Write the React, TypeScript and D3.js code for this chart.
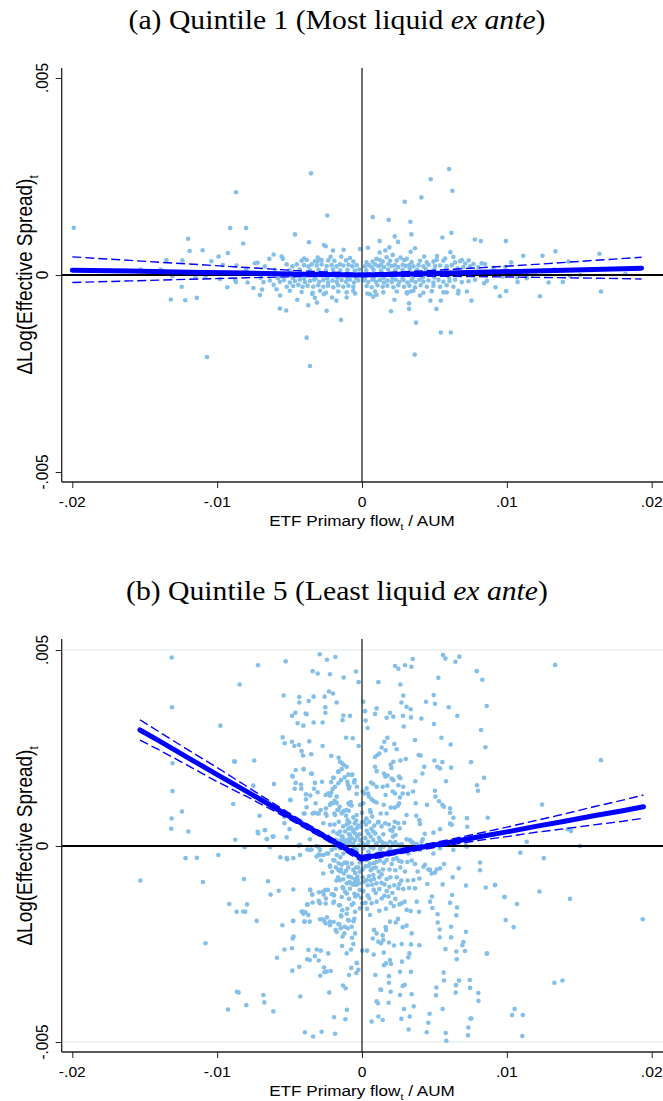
import React, { useEffect, useRef } from 'react';
import * as d3 from 'd3';

// All values are in thousandths: x = ETF primary flow / AUM, y = change in log effective spread
const xTicks = [-20, -10, 0, 10, 20];
const xTickLabels = ['-.02', '-.01', '0', '.01', '.02'];
const yTicks = [-5, 0, 5];
const yTickLabels = ['-.005', '0', '.005'];

// Quintile 1 scatter
const q1Points: [number, number][] = [
  [-19.9, 1.2], [-15.3, 0.14], [-13.9, 0.14], [-13.5, 0.38], [-13.1, -0.03], [-13.2, -0.62], [-12.2, -0.64], [-12.45, -0.3],
  [-12.4, 0.37], [-12.0, 0.92], [-11.9, 0.61], [-11.5, -0.06], [-11.4, -0.58], [-11.0, 0.63], [-10.8, -0.03], [-10.7, -2.08],
  [-10.4, 0.35], [-9.9, 0.47], [-9.8, -0.1], [-9.3, -0.31], [-9.26, 0.56], [-9.1, 1.19], [-8.7, 2.1], [-8.75, -0.13],
  [-8.2, 0.8], [-8.0, 1.19], [-7.9, -0.19], [-7.5, -0.33], [-7.4, 0.3], [-7.2, 0.31], [-7.05, -0.51], [-6.9, -0.37],
  [-6.8, -0.18], [-6.4, 0.41], [-6.1, 0.52], [-6.1, -0.25], [-5.9, -0.36], [-5.65, -0.52], [-5.67, -0.85], [-5.55, 0.47],
  [-5.46, 0.41], [-5.23, -0.9], [-4.63, 1.03], [-4.47, -0.63], [-3.82, -1.59], [-3.71, -0.77], [-3.66, 0.83], [-3.59, -2.31],
  [-3.52, 2.58], [-3.43, -0.48], [-3.25, -0.58], [-3.11, -0.7], [-3.09, 0.34], [-2.79, 0.38], [-2.63, 0.76], [-2.63, -0.49],
  [-2.51, 0.73], [-2.44, -0.91], [-2.4, 1.51], [-2.07, -0.57], [-2.0, 0.62], [-1.77, -0.65], [-1.45, -1.14], [-1.43, 0.47],
  [-1.27, 0.64], [-1.06, -0.57], [-0.48, -0.47], [-0.14, 0.66], [0.37, -0.47], [0.41, 0.69], [0.55, -0.49], [0.74, 1.47],
  [0.78, -0.55], [1.01, -0.5], [1.22, 0.86], [1.22, 0.57], [1.61, 0.62], [1.84, 1.4], [1.89, 0.7], [2.0, -0.92],
  [2.12, 0.51], [2.24, -0.63], [2.26, 0.98], [2.49, 0.84], [2.95, 1.86], [3.11, -0.47], [3.25, -0.72], [3.25, -0.86],
  [3.34, 1.35], [3.34, -0.42], [3.36, 0.59], [3.41, 1.03], [3.64, -2.02], [3.66, 0.68], [3.73, -1.21], [4.0, -0.52],
  [4.1, 1.97], [4.29, 0.47], [4.72, -0.65], [4.75, 2.43], [5.14, -0.86], [5.18, 0.48], [5.44, -0.65], [5.44, -1.46],
  [5.55, 0.95], [5.74, 0.42], [5.85, -0.44], [6.01, 2.69], [6.1, 0.58], [6.13, -1.46], [6.17, 1.07], [6.24, 2.14],
  [6.31, 0.46], [6.64, -0.47], [6.89, 0.38], [7.37, 0.37], [7.56, -0.65], [7.79, 0.9], [8.2, 0.86], [8.43, -0.21],
  [9.22, -0.31], [9.52, -0.54], [9.69, -0.04], [9.93, 0.86], [9.95, -0.41], [10.3, 0.32], [10.7, -0.06], [10.74, -0.18],
  [11.13, 0.49], [11.37, -0.08], [11.4, -0.01], [12.28, -0.54], [12.46, 0.49], [12.88, -0.19], [13.26, 0.14], [13.36, 0.6],
  [13.86, -0.18], [14.25, 0.34], [14.36, -0.02], [15.05, 0.0], [16.39, 0.54], [16.5, -0.42], [18.19, 0.03],
  [-4.17, 0.36], [-4.0, 0.42], [-3.82, 0.38], [-3.25, 0.35], [-3.06, 0.44], [-2.9, 0.39], [-2.33, 0.37], [-2.17, 0.46],
  [-1.91, 0.36], [-1.1, 0.37], [-0.83, 0.43], [-0.6, 0.34], [0.32, 0.32], [0.74, 0.34], [1.0, 0.41], [1.24, 0.38],
  [1.43, 0.34], [1.7, 0.45], [1.94, 0.36], [2.4, 0.37], [2.67, 0.44], [2.9, 0.38], [3.09, 0.41], [3.43, 0.33],
  [4.0, 0.36], [4.47, 0.32], [4.93, 0.34], [5.16, 0.38], [5.62, 0.36], [6.43, 0.32], [6.77, 0.35], [7.12, 0.29],
  [7.7, 0.28], [8.27, 0.3], [8.5, 0.28],
  [-9.6, 0.25], [-8.66, 0.24], [-6.7, 0.22], [-5.2, 0.27], [-4.8, 0.22], [-4.5, 0.27], [-4.0, 0.25], [-3.7, 0.22],
  [-3.48, 0.27], [-3.13, 0.24], [-2.79, 0.27], [-2.44, 0.23], [-2.1, 0.25], [-1.75, 0.22], [-1.52, 0.27], [-1.29, 0.24],
  [-0.94, 0.26], [-0.67, 0.22], [-0.37, 0.25], [0.2, 0.22], [0.5, 0.25], [0.67, 0.2], [0.9, 0.27], [1.13, 0.23],
  [1.31, 0.25], [1.52, 0.2], [1.82, 0.27], [2.05, 0.23], [2.28, 0.25], [2.51, 0.2], [2.81, 0.26], [3.02, 0.23],
  [3.27, 0.25], [3.55, 0.22], [3.9, 0.25], [4.24, 0.22], [4.59, 0.26], [5.05, 0.23], [5.39, 0.24], [5.85, 0.22],
  [6.2, 0.25], [7.0, 0.2], [7.47, 0.22], [8.04, 0.2], [9.08, 0.18], [9.9, 0.2],
  [-8.0, 0.14], [-6.0, 0.13], [-5.0, 0.12], [-4.3, 0.14], [-3.6, 0.12], [-3.0, 0.13], [-2.5, 0.11], [-2.0, 0.14],
  [-1.5, 0.12], [-1.0, 0.13], [-0.5, 0.11], [-0.2, 0.14], [0.3, 0.12], [0.8, 0.13], [1.3, 0.11], [1.8, 0.14],
  [2.3, 0.12], [2.8, 0.13], [3.3, 0.15], [3.8, 0.13], [4.4, 0.15], [5.0, 0.14], [5.8, 0.16], [6.6, 0.17],
  [-7.0, -0.07], [-5.8, -0.08], [-4.8, -0.07], [-4.0, -0.09], [-3.2, -0.08], [-2.4, -0.09], [-1.7, -0.07], [-1.0, -0.09],
  [-0.4, -0.08], [0.2, -0.08], [0.8, -0.09], [1.5, -0.07], [2.1, -0.09], [2.8, -0.08], [3.5, -0.07], [4.2, -0.06],
  [5.0, -0.06], [6.0, -0.05],
  [-8.7, -0.18], [-6.36, -0.14], [-5.67, -0.17], [-5.39, -0.13], [-4.98, -0.19], [-4.63, -0.15], [-4.29, -0.12], [-3.94, -0.18],
  [-3.59, -0.15], [-3.3, -0.12], [-2.95, -0.17], [-2.67, -0.13], [-2.33, -0.19], [-2.03, -0.14], [-1.75, -0.18], [-1.41, -0.13],
  [-1.1, -0.17], [-0.83, -0.12], [-0.55, -0.19], [-0.25, -0.14], [0.16, -0.14], [0.44, -0.18], [0.71, -0.12], [0.97, -0.17],
  [1.24, -0.13], [1.52, -0.19], [1.77, -0.14], [2.05, -0.18], [2.33, -0.12], [2.58, -0.17], [2.86, -0.13], [3.13, -0.19],
  [3.41, -0.14], [3.69, -0.18], [3.96, -0.12], [4.24, -0.17], [4.59, -0.14], [4.93, -0.19], [5.28, -0.13], [5.62, -0.17],
  [6.04, -0.15], [6.43, -0.12], [6.89, -0.18], [7.35, -0.16], [7.81, -0.12], [8.62, -0.15],
  [-5.2, -0.3], [-4.75, -0.28], [-4.4, -0.25], [-4.1, -0.3], [-3.76, -0.27], [-3.36, -0.3], [-3.02, -0.26], [-2.67, -0.3],
  [-2.35, -0.27], [-1.98, -0.31], [-1.64, -0.26], [-1.29, -0.3], [-0.94, -0.27], [-0.6, -0.3], [0.32, -0.28], [0.67, -0.31],
  [1.06, -0.26], [1.43, -0.3], [1.75, -0.27], [2.17, -0.31], [2.51, -0.26], [2.9, -0.3], [3.27, -0.27], [3.66, -0.31],
  [4.05, -0.26], [4.47, -0.3], [4.93, -0.27], [5.39, -0.3], [5.85, -0.26], [6.31, -0.3],
  [-4.98, -0.4], [-4.17, -0.43], [-3.41, -0.45], [-2.9, -0.4], [-2.49, -0.45], [-1.64, -0.42], [-1.06, -0.44], [-0.6, -0.4],
  [0.9, -0.42], [1.47, -0.44], [2.4, -0.42], [3.09, -0.44], [3.55, -0.4], [4.24, -0.45], [4.82, -0.41], [5.62, -0.44],
  [6.66, -0.4], [7.24, -0.42],
];

// Quintile 1 fitted lines (left and right of zero flow)
const q1LeftX = [-20, -16, -12, -8, -4, 0];
const q1LeftFit = [0.12, 0.1, 0.07, 0.05, 0.02, 0.0];
const q1LeftUpper = [0.46, 0.37, 0.28, 0.19, 0.1, 0.04];
const q1LeftLower = [-0.19, -0.15, -0.11, -0.07, -0.04, -0.03];
const q1RightX = [0, 4, 8, 12, 16, 19.3];
const q1RightFit = [0.0, 0.03, 0.07, 0.1, 0.14, 0.17];
const q1RightUpper = [0.04, 0.1, 0.18, 0.27, 0.37, 0.45];
const q1RightLower = [-0.03, -0.03, -0.04, -0.06, -0.08, -0.1];

// Quintile 5 scatter
const q5Points: [number, number][] = [
  [-15.3, -0.88], [-13.14, 4.81], [-13.12, 3.54], [-13.08, 2.11], [-13.08, 1.4], [-12.43, 0.88], [-13.14, 0.7], [-13.17, 0.44],
  [-11.99, 0.37], [-12.18, -0.31], [-11.4, -0.3], [-10.98, -0.92], [-10.8, -2.48], [-9.92, -0.23], [-9.78, 3.07], [-9.25, -4.17],
  [-9.16, -1.48], [-8.82, 2.16], [-8.89, 1.07], [-8.75, 0.16], [-8.66, -1.68], [-8.63, -3.72], [-8.52, -3.74], [-8.45, 4.12],
  [-8.15, -0.84], [-8.1, -0.03], [-8.2, -1.67], [-8.06, -1.68], [-7.99, -4.06], [-7.94, -1.49], [-7.44, 2.18], [-7.5, 1.54],
  [-7.27, -1.91], [-7.2, 0.36], [-7.18, 4.61], [-6.81, -3.8], [-6.74, -3.99], [-6.7, 0.4], [-6.56, 0.18], [-6.49, -0.9],
  [-6.35, -0.03], [-6.31, -1.24], [-6.17, 0.24], [-6.12, -4.22], [-6.08, 1.58], [-5.87, -2.85], [-5.75, -1.14], [-5.64, -0.29],
  [-5.5, -2.02], [-5.48, 2.77], [-5.41, 3.84], [-5.36, -2.64], [-5.34, 2.62], [-5.27, 4.71], [-5.2, 0.22], [-5.16, -0.34],
  [-4.95, 1.18], [-4.83, 3.32], [-4.83, 2.66], [-4.83, -2.61], [-4.81, -3.18], [-4.79, 1.77], [-4.79, -2.36], [-4.74, -1.11],
  [-4.74, -1.91], [-4.72, -2.31], [-4.67, 2.55], [-4.65, 1.46], [-4.6, 3.4], [-4.44, 3.13], [-4.37, 0.01], [-4.35, 2.58],
  [-4.33, 3.66], [-4.33, 3.8], [-4.33, -3.08], [-4.26, -3.84], [-4.21, 1.57], [-4.17, 2.42], [-4.1, -1.67], [-4.07, 2.31],
  [-4.05, 3.07], [-4.03, 1.96], [-3.98, -1.93], [-3.96, 0.83], [-3.94, -4.75], [-3.91, -1.69], [-3.89, 3.38], [-3.87, 1.19],
  [-3.82, 3.36], [-3.8, -1.5], [-3.78, -2.89], [-3.7, -2.65], [-3.68, 3.7], [-3.64, 2.67], [-3.61, -1.93], [-3.61, -2.91],
  [-3.59, 0.17], [-3.59, -1.12], [-3.57, 1.29], [-3.5, 2.34], [-3.45, 1.84], [-3.43, -1.24], [-3.41, 4.46], [-3.38, -4.86],
  [-3.34, 3.81], [-3.34, 3.15], [-3.27, 0.85], [-3.25, 1.61], [-3.25, -2.81], [-3.13, 0.0], [-3.13, -2.64], [-3.08, 0.83],
  [-3.06, 4.4], [-3.06, 1.37], [-2.99, -2.92], [-2.92, 4.89], [-2.88, -3.31], [-2.85, -2.67], [-2.79, -4.74], [-2.72, 3.15],
  [-2.72, 2.55], [-2.67, 0.58], [-2.62, -3.1], [-2.6, -3.22], [-2.58, 3.81], [-2.53, 3.54], [-2.53, 3.4], [-2.51, 1.3],
  [-2.49, 0.96], [-2.44, -3.2], [-2.42, 4.75], [-2.33, -2.74], [-2.3, 1.33], [-2.28, 3.94], [-2.26, -3.74], [-2.21, 4.38],
  [-2.21, 1.05], [-2.21, 0.54], [-2.16, -3.19], [-2.12, 2.3], [-2.12, 1.36], [-2.03, 1.09], [-2.0, 3.89], [-1.98, 1.74],
  [-1.93, -4.37], [-1.86, -4.79], [-1.84, 4.82], [-1.75, 3.66], [-1.75, 1.1], [-1.61, 2.25], [-1.61, 1.9], [-1.52, 2.15],
  [-1.38, 2.11], [-1.38, -2.55], [-1.34, 3.21], [-1.29, 3.33], [-1.31, -3.56], [-1.27, 4.3], [-1.27, 2.07], [-1.15, -4.42],
  [-1.13, -3.63], [-1.1, 2.76], [-1.06, 2.02], [-1.06, -2.74], [-1.04, -4.18], [-0.97, 1.56], [-0.9, -3.29], [-0.87, 1.51],
  [-0.83, 3.32], [-0.76, -2.64], [-0.74, -3.11], [-0.67, 1.82], [-0.64, 2.75], [-0.6, -2.5], [-0.51, 1.68], [-0.41, 4.45],
  [-0.39, -3.24], [-0.35, -2.99], [-0.25, -3.16], [-0.23, 4.18], [-0.23, 2.55], [0.02, -2.67],
  [0.09, 3.68], [0.21, 3.44], [0.25, 3.2], [0.39, 3.01], [1.13, 4.18], [2.28, 4.59], [2.51, 4.52], [2.97, 4.61],
  [3.41, 4.57], [3.5, 4.77], [2.65, 4.12], [2.85, 3.84], [2.72, 3.66], [1.01, 3.51], [0.9, 3.37], [1.7, 3.27],
  [1.93, 3.4], [2.16, 3.3], [2.83, 3.32], [3.08, 3.55], [3.36, 3.49], [3.38, 3.28], [2.88, 3.05], [4.1, 3.25],
  [4.42, 3.68], [5.04, 3.63], [4.95, 3.85], [5.27, 4.29], [5.59, 4.87], [5.76, 4.78], [6.45, 4.7], [6.72, 4.83],
  [5.99, 3.54], [6.58, 3.32], [4.97, 3.11], [7.92, 4.46], [8.31, 4.24], [8.61, 3.57], [8.22, 2.96], [8.52, 2.52],
  [8.43, 1.74], [7.94, 1.55], [8.01, 1.41], [8.68, 0.72], [7.25, 0.71], [7.27, 0.49], [7.53, 2.14], [5.48, 2.76],
  [6.12, 2.59], [5.0, 2.18], [5.2, 2.02], [5.39, 1.98], [5.55, 2.14], [6.15, 2.0], [3.66, 2.7], [3.91, 2.32],
  [4.05, 2.31], [4.3, 2.02], [4.17, 1.85], [5.04, 1.41], [5.07, 1.26], [5.32, 1.14], [5.55, 1.05], [5.66, 1.0],
  [5.8, 1.65], [6.08, 0.96], [6.08, 0.85], [6.31, 0.72], [6.08, 0.57], [6.2, 0.54], [6.63, 0.15], [7.18, 0.01],
  [5.39, 0.43], [4.93, 0.34], [4.33, 0.31], [4.49, 1.05], [3.75, 0.77], [3.96, 0.66], [4.0, 0.56], [4.19, 0.17],
  [3.31, 0.15], [3.43, 0.11], [3.71, 1.09], [3.52, 1.39], [3.18, 1.33], [3.68, 1.65], [2.81, 1.34], [2.85, 1.51],
  [2.56, 1.77], [2.65, 1.73], [2.51, 1.55], [2.23, 2.6], [2.39, 2.47], [1.75, 2.76], [1.54, 2.66], [1.36, 2.51],
  [1.63, 2.44], [1.06, 2.32], [1.2, 2.36], [0.9, 2.27], [0.9, 2.02], [1.01, 1.91], [2.03, 1.99], [1.98, 2.08],
  [2.16, 2.15], [2.65, 2.18], [3.02, 2.22], [1.52, 1.85], [1.61, 1.77], [1.77, 1.8], [2.05, 1.72], [2.16, 1.68],
  [0.62, 1.62], [0.78, 1.58], [1.01, 1.51], [1.43, 1.51], [1.75, 1.54], [2.28, 1.34], [2.12, 1.39], [1.63, 1.3],
  [0.48, 1.26], [0.67, 1.19], [0.83, 1.14], [1.01, 1.11], [1.5, 1.05], [2.56, 1.09], [0.55, 0.92], [0.6, 0.86],
  [1.29, 0.83], [1.98, 0.98], [2.26, 0.98], [2.49, 1.03], [2.62, 1.24], [3.08, 0.79], [2.92, 0.59], [1.7, 0.83],
  [2.26, 0.62], [2.49, 0.58], [1.96, 0.41], [2.09, 0.38], [2.14, 0.24], [2.32, 0.28], [1.47, 0.3], [1.17, 0.21],
  [1.36, 0.11], [0.64, 0.44], [0.78, 0.37], [0.92, 0.32], [0.44, 0.32], [0.32, 0.39], [0.14, 0.62], [-0.09, 0.49],
  [-0.37, 0.45], [-0.18, 0.3], [-0.6, 0.37], [-0.71, 0.2], [-0.48, 0.15], [-0.83, 0.11], [-1.17, 0.37], [-0.94, 0.44],
  [-0.87, 0.6], [-0.99, 0.66], [-1.63, 0.31], [-1.8, 0.15], [-1.52, 0.13], [-1.34, 0.24], [-1.98, 0.07], [-1.1, 0.77],
  [-0.6, 0.73], [-0.37, 0.79], [-0.14, 1.05], [0.09, 1.09], [0.05, 1.39], [0.32, 1.47], [0.18, 1.34], [0.41, 1.34],
  [-0.37, 1.33], [-0.35, 1.51], [-0.55, 1.62], [-0.71, 1.81], [-1.01, 1.64], [-0.9, 1.47], [-0.78, 1.12], [-0.87, 1.06],
  [-0.71, 1.03], [-0.92, 0.9], [-1.22, 0.9], [-1.4, 0.83], [-1.54, 1.0], [-1.7, 0.92], [-1.91, 0.83], [-2.14, 1.09],
  [-1.89, 1.15], [-1.75, 1.26], [-2.51, 0.83], [-2.44, 0.77], [-2.85, 0.92], [-2.99, 0.83], [-3.2, 1.09], [-3.41, 0.83],
  [-2.33, 1.34], [-2.21, 1.28], [-2.03, 1.45], [-1.86, 1.51], [-1.63, 1.6], [-1.45, 1.68], [-1.2, 1.75], [-0.95, 1.82],
  [-1.4, 1.96], [-1.65, 1.89], [-1.96, 1.74], [-2.12, 1.63], [-2.76, 1.64], [-3.31, 1.46], [-3.87, 1.32], [-4.19, 1.46],
  [-4.58, 1.61], [-4.81, 1.79], [-4.58, 1.94], [-4.03, 1.96], [-3.52, 1.85],
  [-3.82, 0.99], [-4.03, 0.83], [-4.42, 0.62], [-5.0, 0.43], [-5.36, 0.58], [-5.8, 0.96], [-6.42, 1.11], [-4.93, 1.17],
  [-5.36, 0.75], [-6.12, 0.24], [-6.58, 0.18], [-6.7, 0.41], [-7.16, 0.32], [-8.77, 2.15], [-7.07, 0.77],
  [-1.7, 0.32], [-1.52, 0.37], [-1.4, 0.24], [-1.24, 0.15], [-1.06, 0.07], [-0.94, 0.17], [-0.83, 0.28], [-0.64, 0.41],
  [-0.48, 0.32], [-0.32, 0.24], [-0.14, 0.15], [0.05, 0.07], [0.23, 0.2], [0.44, 0.11], [0.6, 0.24], [0.78, 0.15],
  [1.01, 0.07], [1.24, 0.14], [1.47, 0.03], [1.7, 0.05], [1.93, 0.11], [2.16, 0.07], [2.51, 0.03], [2.74, 0.05],
  [3.08, 0.17], [3.43, 0.11], [3.78, 0.05], [4.12, 0.11],
  [-4.28, 0.03], [-3.78, -0.09], [-3.48, -0.09], [-3.02, -0.02], [-2.9, -0.23], [-2.44, -0.19], [-2.09, -0.1], [-1.75, -0.23],
  [-1.52, -0.06], [-1.29, -0.19], [-1.06, -0.02], [-0.78, -0.14], [-0.6, 0.07], [-0.37, -0.1], [-0.14, -0.27], [0.14, 0.03],
  [0.44, -0.14], [0.78, -0.06], [1.13, -0.19], [1.47, -0.02], [1.82, -0.14], [2.16, 0.03], [2.51, -0.1], [2.85, -0.02],
  [3.2, -0.19], [3.55, 0.07], [4.0, -0.1], [4.47, 0.03], [4.93, -0.19], [5.39, -0.06], [6.31, -0.1], [7.23, -0.02],
  [0.32, -0.36], [0.44, -0.51], [0.74, -0.57], [0.83, -0.44], [1.01, -0.4], [1.24, -0.37], [1.52, -0.43], [1.7, -0.36],
  [2.05, -0.46], [2.16, -0.34], [2.39, -0.31], [2.56, -0.38], [2.74, -0.4], [2.97, -0.65], [3.13, -0.41], [3.43, -0.37],
  [3.66, -0.46], [3.84, -0.65], [4.24, -0.53], [4.35, -0.48], [4.58, -0.6], [4.7, -0.61], [4.81, -0.7], [5.04, -0.68],
  [5.16, -0.6], [5.39, -0.57], [5.66, -0.46], [6.26, -0.8], [6.68, -0.57], [8.15, -0.42], [7.18, -1.01], [8.54, -1.06],
  [9.19, -0.99], [9.85, -1.3], [9.92, -1.89], [8.61, -2.75], [8.03, -3.75], [7.48, -4.4], [7.34, -4.63], [5.82, -4.97],
  [5.57, -4.16], [4.58, -4.51], [4.67, -4.28], [4.47, -4.75], [5.11, -3.81], [5.66, -3.43], [6.49, -3.55], [7.44, -3.42],
  [7.11, -2.68], [6.93, -2.53], [6.54, -2.89], [6.51, -1.77], [6.15, -2.06], [6.08, -1.45], [5.36, -2.13], [5.23, -1.95],
  [4.86, -1.58], [4.7, -1.42], [4.83, -1.29], [5.57, -0.98], [4.51, -0.97], [3.96, -0.83], [3.55, -0.87], [3.66, -1.08],
  [3.25, -1.07], [3.15, -0.88], [2.72, -0.88], [2.58, -0.97], [2.51, -1.08], [2.23, -1.0], [1.89, -1.04], [1.7, -0.85],
  [1.34, -0.94], [1.36, -0.72], [0.78, -0.74], [0.83, -0.84], [0.48, -0.77], [0.32, -0.87], [0.14, -0.91], [0.71, -0.99],
  [0.81, -1.12], [0.39, -1.26], [0.51, -1.34], [0.25, -1.45], [0.67, -1.46], [1.01, -1.42], [1.36, -1.34], [1.54, -1.27],
  [1.82, -1.29], [1.98, -1.45], [2.19, -1.53], [2.58, -1.49], [2.74, -1.46], [2.95, -1.42], [3.08, -1.63], [3.36, -1.66],
  [3.78, -1.42], [3.94, -1.68], [3.43, -2.23], [3.08, -2.03], [2.81, -2.07], [2.49, -1.86], [2.33, -1.95], [1.93, -1.93],
  [1.63, -2.07], [1.66, -2.14], [1.47, -2.4], [1.43, -2.28], [1.01, -2.23], [0.83, -2.14], [0.74, -2.36], [1.13, -2.44],
  [1.31, -2.48], [1.86, -2.46], [2.21, -2.54], [2.74, -2.5], [3.38, -2.51], [3.96, -2.53], [3.27, -2.74], [3.2, -2.84],
  [2.76, -2.95], [1.93, -2.91], [1.66, -2.99], [1.52, -3.04], [2.0, -3.01], [2.62, -3.21], [3.38, -3.21], [2.81, -3.57],
  [2.95, -3.54], [1.86, -3.32], [1.86, -3.49], [1.31, -3.67], [1.98, -3.72], [2.62, -3.8], [3.43, -3.78], [1.84, -4.0],
  [1.01, -3.96], [1.1, -4.01], [1.27, -3.66], [0.92, -3.29], [0.67, -4.48], [1.43, -4.44], [1.13, -4.35], [2.72, -4.41],
  [2.9, -4.16], [3.29, -4.35], [3.57, -4.09], [3.22, -4.68], [1.5, -2.72], [0.81, -2.77], [0.35, -2.67], [0.55, -1.76],
  [19.38, -1.87], [14.36, -1.35], [12.25, -1.16], [10.7, -1.48], [9.83, -1.3], [10.47, -2.07], [13.28, -3.49], [13.84, -3.43],
  [10.36, -4.31], [10.54, -4.16], [11.1, -4.31], [11.07, -4.85], [9.18, -1.0], [8.15, -0.62], [8.63, -2.74], [8.04, -3.95],
  [7.32, -4.83], [7.55, -4.4], [7.46, -3.62], [6.7, -3.43], [7.18, -2.19], [7.0, -2.45], [6.51, -2.69], [5.76, -2.63],
  [6.56, -1.57], [6.15, -2.33], [6.22, -1.25], [5.36, -2.33], [5.22, -1.74], [6.47, -3.74], [5.64, -3.23], [5.13, -3.61],
  [5.78, -4.77], [13.33, 4.62], [16.5, 2.19], [12.43, 1.06], [14.2, 0.43], [14.43, 0.38], [11.37, 0.11], [15.05, 0.0],
  [10.93, -0.17], [12.55, -0.31],
  [-4.77, -1.91], [-4.17, -1.67], [-4.05, -1.73], [-3.71, -1.76], [-3.96, -1.93], [-3.75, -1.49], [-3.45, -1.24], [-3.57, -1.12],
  [-2.97, -1.18], [-2.67, -0.23], [-2.83, -0.37], [-2.99, -0.22], [-2.21, -0.5], [-2.07, -0.66], [-1.89, -0.37], [-1.61, -0.44],
  [-1.5, -0.29], [-1.2, -0.42], [-1.1, -0.63], [-1.04, -0.43], [-1.5, -0.65], [-1.77, -0.88], [-1.63, -0.86], [-1.8, -1.1],
  [-1.93, -1.26], [-2.0, -1.23], [-1.34, -1.05], [-1.17, -1.17], [-1.04, -1.21], [-0.83, -1.09], [-0.53, -1.22], [-0.62, -0.99],
  [-0.48, -0.91], [-0.37, -0.99], [-0.32, -0.78], [-0.16, -0.66], [-0.25, -0.55], [-0.48, -0.69], [-0.3, -0.86], [-0.85, -0.92],
  [-0.64, -0.97], [-0.16, -1.12], [-0.07, -1.32], [0.02, -1.46], [-0.14, -1.59], [-2.49, -1.34], [-2.65, -1.24], [-2.53, -1.12],
  [-2.09, -1.23], [-1.93, -1.42], [-1.59, -1.51], [-1.36, -1.64], [-1.01, -1.6], [-1.43, -1.8], [-1.06, -1.73], [-0.48, -1.68],
  [-0.97, -1.89], [-0.58, -1.92], [-0.71, -2.06], [-1.82, -2.14], [-2.21, -1.93], [-2.42, -1.82], [-3.41, -1.44], [-2.99, -1.4],
  [-2.9, -1.46], [-2.51, -1.47], [-1.34, -2.31], [-1.22, -2.23], [-0.69, -2.34], [-0.48, -2.23], [-0.99, -2.1], [-1.47, -2.1],
  [-1.63, -1.99], [-2.62, -1.91], [-2.9, -1.87], [-2.74, -1.87], [-2.51, -1.97], [-2.21, -2.02], [-1.96, -1.94], [-2.35, -1.12],
  [-2.69, -1.17], [-1.98, -1.45], [-1.52, -1.51], [-1.45, -1.77], [-1.57, -2.0], [-1.75, -2.19], [-1.2, -2.06], [-0.9, -1.9],
  [-0.53, -1.86], [-0.6, -1.46], [-0.46, -1.29], [-0.48, -0.98], [-1.29, -1.08], [-1.52, -0.87], [-0.37, -2.98],
  [-1.63, -0.61], [-1.06, -0.44], [-0.6, -0.61], [-3.13, -0.27], [-3.59, -0.1], [-4.28, -0.23], [-4.74, -0.31], [-5.2, -0.31],
  [-2.9, -0.1], [-2.33, -0.19], [-1.98, -0.36], [-1.4, -0.48], [-0.94, -0.78], [-2.21, -0.53], [-2.67, -0.7], [-0.83, -0.95],
  [-2.67, 0.26], [-2.33, 0.24], [-1.98, 0.37], [-1.86, 0.79], [-1.63, 0.92], [-1.29, 0.88], [-1.06, 0.92], [-0.94, 1.09],
  [-1.9, 0.55], [-1.6, 0.62], [-1.3, 0.5], [-1.05, 0.55], [-0.75, 0.48], [-0.5, 0.58], [-0.25, 0.52], [0.0, 0.6],
  [0.28, 0.55], [0.5, 0.62], [0.85, 0.52], [1.1, 0.6], [1.35, 0.5], [1.6, 0.58], [1.85, 0.55], [2.2, 0.48], [2.6, 0.45],
  [-1.85, -0.05], [-1.6, 0.02], [-1.15, -0.08], [-0.85, 0.04], [-0.55, -0.05], [-0.2, 0.02], [0.1, -0.06], [0.35, 0.04],
  [0.6, -0.03], [0.95, 0.03], [1.25, -0.08], [1.6, 0.06], [1.95, -0.05], [2.3, 0.1], [2.7, -0.06],
  [-1.8, -0.55], [-1.45, -0.6], [-1.25, -0.7], [-0.95, -0.55], [-0.7, -0.45], [-0.4, -0.55], [-0.15, -0.42], [0.05, -0.6],
  [0.25, -0.52], [0.55, -0.45], [0.6, -0.62], [0.95, -0.55], [1.15, -0.65], [1.45, -0.6], [1.9, -0.6], [2.3, -0.62], [2.65, -0.55],
  [-1.65, -0.8], [-1.3, -0.85], [-1.05, -0.95], [-0.75, -0.8], [-0.5, -0.85], [-0.2, -0.95], [0.05, -0.8], [0.4, -1.0],
  [0.6, -0.88], [1.0, -0.95], [1.2, -0.8], [1.55, -0.98], [1.95, -0.8], [2.4, -0.8], [2.85, -1.1],
  [-1.4, -1.3], [-0.9, -1.35], [-0.3, -1.25], [0.1, -1.15], [0.95, -1.2], [1.2, -1.1], [1.7, -1.15], [2.1, -1.2],
  [2.3, -1.35], [-0.7, -1.5], [0.35, -1.6], [1.2, -1.65], [1.65, -1.6],
  [-1.2, 0.1], [-0.9, 0.3], [-0.4, 0.65], [0.0, 0.85], [0.3, 0.7], [0.7, 0.75], [1.15, 0.62],
];

// Quintile 5 fitted lines
const q5LeftX = [-15.33, -14, -12, -10, -8, -6, -4, -2, 0];
const q5LeftFit = [2.96, 2.68, 2.25, 1.82, 1.4, 0.97, 0.54, 0.12, -0.31];
const q5LeftUpper = [3.22, 2.91, 2.45, 2.0, 1.53, 1.06, 0.61, 0.19, -0.22];
const q5LeftLower = [2.7, 2.45, 2.05, 1.64, 1.27, 0.88, 0.47, 0.05, -0.4];
const q5RightX = [0, 2, 4, 6, 8, 10, 12, 14, 16, 18, 19.43];
const q5RightFit = [-0.31, -0.18, -0.04, 0.09, 0.23, 0.36, 0.5, 0.63, 0.77, 0.9, 1.0];
const q5RightUpper = [-0.24, -0.12, 0.02, 0.16, 0.32, 0.48, 0.65, 0.82, 1.0, 1.17, 1.3];
const q5RightLower = [-0.38, -0.24, -0.1, 0.02, 0.14, 0.24, 0.35, 0.44, 0.54, 0.63, 0.71];

type Fit = { x: number[]; fit: number[]; upper: number[]; lower: number[] };
type Panel = {
  label: string; name: string; points: [number, number][]; fits: Fit[];
  top: number; bottom: number; yLow: number; yHigh: number; titleY: number; grid: boolean;
};

const panels: Panel[] = [
  {
    label: '(a) Quintile 1 (Most liquid ', name: 'q1', points: q1Points,
    fits: [
      { x: q1LeftX, fit: q1LeftFit, upper: q1LeftUpper, lower: q1LeftLower },
      { x: q1RightX, fit: q1RightFit, upper: q1RightUpper, lower: q1RightLower },
    ],
    top: 68, bottom: 482, yLow: 472, yHigh: 78, titleY: 29, grid: false,
  },
  {
    label: '(b) Quintile 5 (Least liquid ', name: 'q5', points: q5Points,
    fits: [
      { x: q5LeftX, fit: q5LeftFit, upper: q5LeftUpper, lower: q5LeftLower },
      { x: q5RightX, fit: q5RightFit, upper: q5RightUpper, lower: q5RightLower },
    ],
    top: 639, bottom: 1052, yLow: 1042, yHigh: 650, titleY: 600, grid: true,
  },
];

const W = 663;
const H = 1101;
const plotLeft = 61.7;
const plotRight = 663;
const SX = 1.12; // the exported figure is slightly stretched horizontally
const sans = '"Liberation Sans", Arial, Helvetica, sans-serif';
const serif = '"Liberation Serif", "Times New Roman", serif';

function drawPanel(svg: d3.Selection<SVGSVGElement, unknown, null, undefined>, p: Panel) {
  const x = d3.scaleLinear().domain([-20, 20]).range([72.3, 651.7]);
  const y = d3.scaleLinear().domain([-5, 5]).range([p.yLow, p.yHigh]);
  const g = svg.append('g').attr('class', p.name);

  // Title
  const title = g.append('text')
    .attr('transform', `translate(337,${p.titleY}) scale(1.12,1)`)
    .attr('text-anchor', 'middle')
    .attr('font-family', serif)
    .attr('font-size', 26.5)
    .attr('fill', '#000');
  title.append('tspan').text(p.label);
  title.append('tspan').attr('font-style', 'italic').text('ex ante');
  title.append('tspan').text(')');

  // Light grid lines at the outer y ticks
  if (p.grid) {
    g.selectAll('line.grid')
      .data(yTicks.filter(t => t !== 0))
      .join('line')
      .attr('class', 'grid')
      .attr('x1', plotLeft).attr('x2', plotRight)
      .attr('y1', d => y(d)).attr('y2', d => y(d))
      .attr('stroke', '#e8efef')
      .attr('stroke-width', 1.5);
  }

  // Scatter
  g.append('g')
    .selectAll('circle')
    .data(p.points)
    .join('circle')
    .attr('cx', d => x(d[0]))
    .attr('cy', d => y(d[1]))
    .attr('r', 2.3)
    .attr('fill', '#83bfe8');

  // Reference lines at zero
  g.append('line')
    .attr('x1', plotLeft).attr('x2', plotRight)
    .attr('y1', y(0)).attr('y2', y(0))
    .attr('stroke', '#000').attr('stroke-width', 1.8);
  g.append('line')
    .attr('x1', x(0)).attr('x2', x(0))
    .attr('y1', p.top).attr('y2', p.bottom)
    .attr('stroke', '#222').attr('stroke-width', 1.3);

  // Fits and confidence bands
  const line = d3.line<[number, number]>().x(d => x(d[0])).y(d => y(d[1]));
  p.fits.forEach(f => {
    [f.upper, f.lower].forEach(band => {
      g.append('path')
        .attr('d', line(d3.zip(f.x, band) as [number, number][]))
        .attr('fill', 'none')
        .attr('stroke', '#0000ff')
        .attr('stroke-width', 1.4)
        .attr('stroke-dasharray', '9,4');
    });
  });
  p.fits.forEach(f => {
    g.append('path')
      .attr('d', line(d3.zip(f.x, f.fit) as [number, number][]))
      .attr('fill', 'none')
      .attr('stroke', '#0000ff')
      .attr('stroke-width', 5)
      .attr('stroke-linecap', 'round')
      .attr('stroke-linejoin', 'round');
  });

  // Axes
  g.append('line')
    .attr('x1', plotLeft).attr('x2', plotLeft)
    .attr('y1', p.top).attr('y2', p.bottom)
    .attr('stroke', '#222').attr('stroke-width', 1.3);
  g.append('line')
    .attr('x1', plotLeft).attr('x2', plotRight)
    .attr('y1', p.bottom).attr('y2', p.bottom)
    .attr('stroke', '#222').attr('stroke-width', 1.3);

  g.append('g')
    .attr('transform', `translate(${plotLeft},0)`)
    .attr('color', '#222')
    .call(d3.axisLeft(y).tickValues(yTicks).tickSize(6).tickFormat(() => ''))
    .call(a => a.select('.domain').remove());
  g.append('g')
    .attr('transform', `translate(0,${p.bottom})`)
    .attr('color', '#222')
    .call(d3.axisBottom(x).tickValues(xTicks).tickSize(6).tickFormat(() => ''))
    .call(a => a.select('.domain').remove());

  // Tick labels
  g.selectAll('text.ytick')
    .data(yTicks)
    .join('text')
    .attr('class', 'ytick')
    .attr('transform', d => `translate(48,${y(d)}) scale(${SX},1) rotate(-90)`)
    .attr('text-anchor', 'middle')
    .attr('font-family', sans)
    .attr('font-size', 15.4)
    .text((d, i) => yTickLabels[i]);
  g.selectAll('text.xtick')
    .data(xTicks)
    .join('text')
    .attr('class', 'xtick')
    .attr('transform', d => `translate(${x(d)},${p.bottom + 25}) scale(${SX},1)`)
    .attr('text-anchor', 'middle')
    .attr('font-family', sans)
    .attr('font-size', 14)
    .text((d, i) => xTickLabels[i]);

  // Axis titles
  const xt = g.append('text')
    .attr('transform', `translate(${x(0)},${p.bottom + 44}) scale(${SX},1)`)
    .attr('text-anchor', 'middle')
    .attr('font-family', sans)
    .attr('font-size', 15.3);
  xt.append('tspan').text('ETF Primary flow');
  xt.append('tspan').attr('font-size', 9.5).attr('dy', 4).text('t');
  xt.append('tspan').attr('dy', -4).text(' / AUM');

  const yt = g.append('text')
    .attr('transform', `translate(32,${y(0)}) scale(${SX},1) rotate(-90)`)
    .attr('text-anchor', 'middle')
    .attr('font-family', sans)
    .attr('font-size', 19);
  yt.append('tspan').text('ΔLog(Effective Spread)');
  yt.append('tspan').attr('font-size', 11.5).attr('dy', 5).text('t');
}

export default function App() {
  const ref = useRef<SVGSVGElement>(null);

  useEffect(() => {
    const svg = d3.select(ref.current as SVGSVGElement);
    svg.selectAll('*').remove();
    panels.forEach(p => drawPanel(svg, p));
  }, []);

  return (
    <svg
      ref={ref}
      width={W}
      height={H}
      style={{ position: 'absolute', left: 0, top: 0, background: '#fff' }}
    />
  );
}
